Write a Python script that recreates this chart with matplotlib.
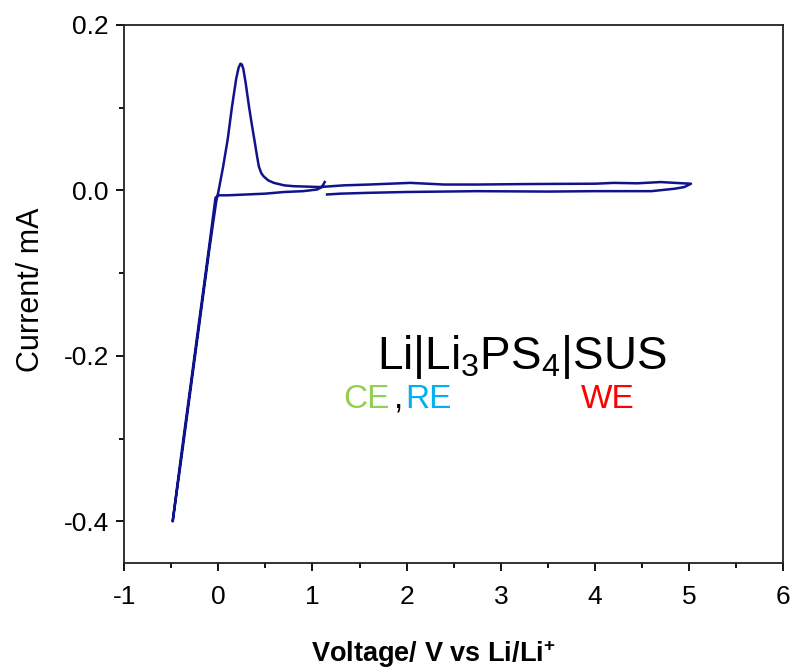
import numpy as np
import matplotlib.pyplot as plt
from matplotlib.ticker import MultipleLocator

plt.rcParams['font.family'] = ['Liberation Sans', 'DejaVu Sans']
plt.rcParams['mathtext.fontset'] = 'custom'
plt.rcParams['mathtext.rm'] = 'Liberation Sans'
plt.rcParams['mathtext.it'] = 'Liberation Sans'
plt.rcParams['mathtext.bf'] = 'Liberation Sans:bold'

# CV curve: start near OCV, sweep down to -0.5 V,
# back up through the stripping peak to 5 V, then back to OCV
voltage = [1.13, 1.10, 1.05, 0.90, 0.70, 0.50, 0.30, 0.10, 0.00, -0.03,
           -0.06, -0.10, -0.20, -0.30, -0.40, -0.485,
           -0.40, -0.30, -0.20, -0.10, -0.05, -0.02, 0.00, 0.05, 0.10,
           0.145, 0.19, 0.215, 0.235, 0.25, 0.265, 0.29, 0.326, 0.355, 0.383,
           0.41, 0.43, 0.455, 0.48, 0.53, 0.59, 0.70, 0.80, 1.08, 1.33, 1.60, 2.04,
           2.40, 2.75, 3.20, 3.60, 4.00, 4.20, 4.45, 4.70, 4.85, 5.02,
           4.95, 4.85, 4.60, 4.00, 3.50, 2.75, 2.00, 1.60, 1.30, 1.155]
current = [0.010, 0.004, 0.001, -0.001, -0.002, -0.004, -0.005, -0.006, -0.006, -0.009,
           -0.035, -0.070, -0.155, -0.240, -0.325, -0.400,
           -0.330, -0.245, -0.160, -0.075, -0.035, -0.012, -0.002, 0.028, 0.062,
           0.101, 0.135, 0.148, 0.153, 0.152, 0.147, 0.130, 0.101, 0.080, 0.061,
           0.042, 0.029, 0.021, 0.017, 0.012, 0.009, 0.006, 0.005, 0.004, 0.006, 0.007, 0.009,
           0.007, 0.007, 0.0075, 0.0078, 0.008, 0.009, 0.0085, 0.010, 0.009, 0.008,
           0.004, 0.002, -0.001, -0.001, -0.0015, -0.001, -0.002, -0.003, -0.004, -0.005]

fig = plt.figure(figsize=(7.96, 6.70), dpi=100)
ax = fig.add_axes([0.156, 0.160, 0.828, 0.803])

ax.plot(voltage, current, color='#10148c', lw=1.8, solid_joinstyle='round')

ax.set_xlim(-1, 6)
ax.set_ylim(-0.45, 0.2)
ax.xaxis.set_major_locator(MultipleLocator(1))
ax.xaxis.set_minor_locator(MultipleLocator(0.5))
ax.yaxis.set_major_locator(MultipleLocator(0.2))
ax.yaxis.set_minor_locator(MultipleLocator(0.1))
ax.xaxis.set_major_formatter(plt.FuncFormatter(lambda v, p: '%d' % v))
ax.yaxis.set_major_formatter(plt.FuncFormatter(lambda v, p: '%.1f' % v))

ax.tick_params(which='major', direction='out', length=6, width=1.3, labelsize=19,
               top=False, right=False)
ax.tick_params(axis='x', which='major', pad=10)
ax.tick_params(axis='y', which='major', pad=5)
ax.tick_params(which='minor', direction='out', length=3.5, width=1.3, top=False, right=False)
for s in ax.spines.values():
    s.set_linewidth(1.3)
    s.set_color('#222222')

# axis titles placed in figure pixels as in the reference
fig.text(433 / 796, 1 - 662 / 670, r'Voltage/ V vs Li/Li$^{\mathbf{+}}$', fontsize=19.5,
         fontweight='bold', ha='center', va='baseline')
fig.text(31 / 796, 1 - 290 / 670, 'Current/ mA', fontsize=22, rotation=90,
         ha='center', va='center')

ax.text(3.22, -0.216, r'Li|Li$_\mathrm{3}$PS$_\mathrm{4}$|SUS', fontsize=33,
        ha='center', va='baseline', color='black')
ax.text(1.332, -0.2627, 'CE', fontsize=24, color='#92d050', va='baseline')
ax.text(1.87, -0.2627, ',', fontsize=24, color='black', va='baseline')
ax.text(1.987, -0.2627, 'RE', fontsize=24, color='#00b0f0', va='baseline')
ax.text(3.85, -0.2627, 'WE', fontsize=24, color='#ff0000', va='baseline')

fig.savefig('out.png', dpi=100)
